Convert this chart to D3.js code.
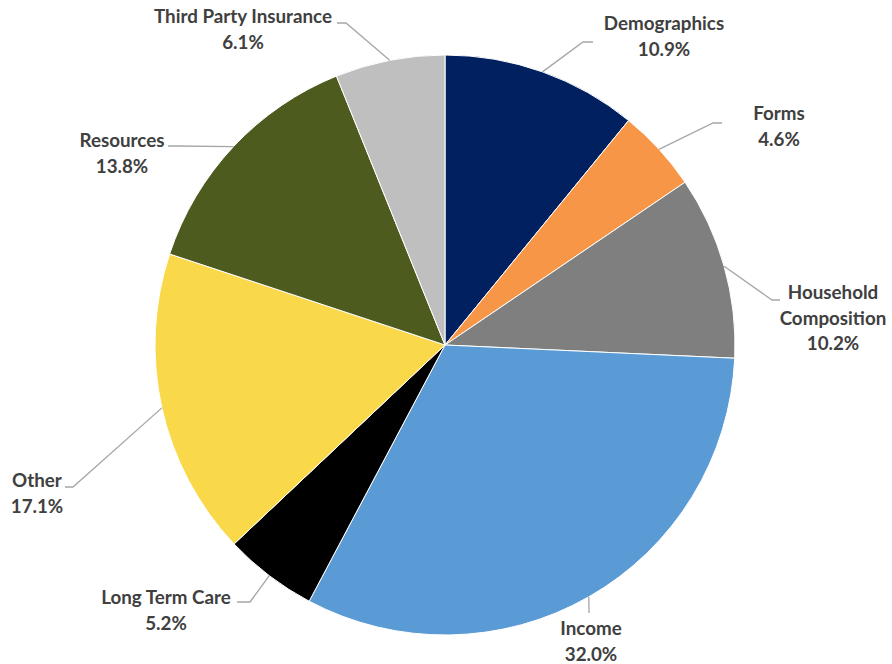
<!DOCTYPE html>
<html>
<head>
<meta charset="utf-8">
<script src="https://cdn.jsdelivr.net/npm/d3@7"></script>
<style>
  html, body { margin: 0; padding: 0; background: #fff; }
  svg text { font-family: Lato, "Open Sans", sans-serif; font-weight: 700; fill: #404040; }
</style>
</head>
<body>
<svg id="chart" width="892" height="664"></svg>
<script>
// Share of items by category (percent)
const categories = ["Demographics", "Forms", "Household Composition", "Income",
  "Long Term Care", "Other", "Resources", "Third Party Insurance"];
const values = [10.9, 4.6, 10.2, 32.0, 5.2, 17.1, 13.8, 6.1];
const labelLines = [
  ["Demographics"], ["Forms"], ["Household", "Composition"], ["Income"],
  ["Long Term Care"], ["Other"], ["Resources"], ["Third Party Insurance"]
];
const colors = ["#002060", "#F79646", "#7F7F7F", "#5B9BD5",
  "#000000", "#F9D849", "#4E5B1F", "#BFBFBF"];

// Label placement: text centre x, first baseline y, leader elbow and end points
const labelLayout = {
  "Demographics":          { x: 664, y: 30,  elbow: [583, 42],  end: [593, 42] },
  "Forms":                 { x: 779, y: 120, elbow: [713, 123], end: [722, 123] },
  "Household Composition": { x: 833, y: 299, elbow: [772, 300], end: [780, 300] },
  "Income":                { x: 591, y: 635, elbow: [589, 613], end: [589, 613] },
  "Long Term Care":        { x: 166, y: 604, elbow: [250, 602], end: [237, 602] },
  "Other":                 { x: 37,  y: 487, elbow: [73, 487],  end: [65, 487] },
  "Resources":             { x: 122, y: 147, elbow: [176, 146], end: [168, 146] },
  "Third Party Insurance": { x: 243, y: 23,  elbow: [346, 23],  end: [337, 23] }
};

const svg = d3.select("#chart");
const cx = 445, cy = 345, r = 290;
const lineGap = 25.5;

const data = categories.map((c, i) => ({ name: c, value: values[i], lines: labelLines[i], color: colors[i] }));

const pie = d3.pie().sort(null).value(d => d.value);
const arc = d3.arc().innerRadius(0).outerRadius(r);
const edge = d3.arc().innerRadius(r).outerRadius(r);

const g = svg.append("g").attr("transform", `translate(${cx},${cy})`);
const arcs = pie(data);

g.selectAll("path.slice")
  .data(arcs)
  .join("path")
  .attr("class", "slice")
  .attr("d", arc)
  .attr("fill", d => d.data.color)
  .attr("stroke", "#ffffff")
  .attr("stroke-width", 1);

// Leader lines from slice edge to label
svg.selectAll("polyline.leader")
  .data(arcs)
  .join("polyline")
  .attr("class", "leader")
  .attr("fill", "none")
  .attr("stroke", "#A6A6A6")
  .attr("stroke-width", 1.3)
  .attr("points", d => {
    const [ex, ey] = edge.centroid(d);
    const L = labelLayout[d.data.name];
    return [[cx + ex, cy + ey], L.elbow, L.end].map(p => p.join(",")).join(" ");
  });

// Category labels with percentages
const labels = svg.selectAll("text.label")
  .data(arcs)
  .join("text")
  .attr("class", "label")
  .attr("text-anchor", "middle")
  .attr("font-size", 18.8);

labels.each(function(d) {
  const L = labelLayout[d.data.name];
  const t = d3.select(this);
  const rows = d.data.lines.concat([d.data.value.toFixed(1) + "%"]);
  rows.forEach((row, i) => {
    t.append("tspan").attr("x", L.x).attr("y", L.y + i * lineGap).text(row);
  });
});
</script>
</body>
</html>
